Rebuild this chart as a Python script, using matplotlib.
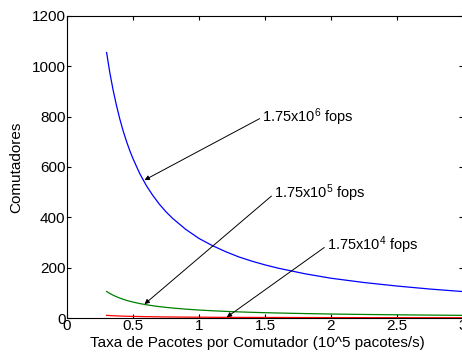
import matplotlib
matplotlib.use('Agg')
import matplotlib.pyplot as plt

# values
rate = [0.3, 0.325, 0.35, 0.375, 0.4, 0.425, 0.45, 0.475, 0.5, 0.55, 0.6, 0.65,
        0.7, 0.75, 0.8, 0.9, 1.0, 1.1, 1.2, 1.3, 1.4, 1.5, 1.6, 1.8, 2.0, 2.25,
        2.5, 2.75, 3.0]
sw_1e6 = [1055, 973, 904, 844, 791, 744, 703, 666, 633, 575, 527, 487,
          452, 422, 396, 352, 316, 288, 264, 243, 226, 211, 198, 176, 158, 141,
          127, 115, 105]
sw_1e5 = [105.5, 97.3, 90.4, 84.4, 79.1, 74.4, 70.3, 66.6, 63.3, 57.5, 52.7, 48.7,
          45.2, 42.2, 39.6, 35.2, 31.6, 28.8, 26.4, 24.3, 22.6, 21.1, 19.8, 17.6,
          15.8, 14.1, 12.7, 11.5, 10.5]
sw_1e4 = [10.5, 9.7, 9.0, 8.4, 7.9, 7.4, 7.0, 6.7, 6.3, 5.8, 5.3, 4.9,
          4.5, 4.2, 4.0, 3.5, 3.2, 2.9, 2.6, 2.4, 2.3, 2.1, 2.0, 1.8,
          1.6, 1.4, 1.3, 1.15, 1.05]

labels = [r'1.75x10$^{6}$ fops', r'1.75x10$^{5}$ fops', r'1.75x10$^{4}$ fops']
arrow_tips = [(0.587, 548), (0.587, 55), (1.21, 3)]
text_pos = [(1.48, 798), (1.57, 494), (1.97, 288)]

plt.rcParams['font.family'] = ['Liberation Sans', 'DejaVu Sans']
plt.rcParams['mathtext.fontset'] = 'custom'
plt.rcParams['mathtext.rm'] = 'Liberation Sans'
plt.rcParams['mathtext.it'] = 'Liberation Sans'
plt.rcParams['mathtext.default'] = 'rm'

fig = plt.figure(figsize=(4.62, 3.52), dpi=100)
ax = fig.add_axes([67 / 462, 34 / 352, 396 / 462, 302 / 352])

ax.plot(rate, sw_1e6, color='#0000ff', lw=0.9)
ax.plot(rate, sw_1e5, color='#008000', lw=0.9)
ax.plot(rate, sw_1e4, color='#ff0000', lw=0.9, clip_on=False)

for lab, tip, pos in zip(labels, arrow_tips, text_pos):
    ax.annotate(lab, xy=tip, xytext=pos, fontsize=10.5, ha='left', va='center',
                arrowprops=dict(arrowstyle='-|>', color='k', lw=0.7,
                                mutation_scale=7, shrinkA=0, shrinkB=0,
                                relpos=(0, 0.5)))

ax.set_xlim(0, 3)
ax.set_ylim(0, 1200)
ax.set_xticks([0, 0.5, 1, 1.5, 2, 2.5, 3])
ax.set_xticklabels(['0', '0.5', '1', '1.5', '2', '2.5', '3'])
ax.set_yticks(range(0, 1201, 200))
ax.tick_params(direction='in', top=True, right=True, labelsize=11, length=3, pad=1)
for s in ax.spines.values():
    s.set_linewidth(0.8)

ax.set_xlabel('Taxa de Pacotes por Comutador (10^5 pacotes/s)', fontsize=11)
ax.xaxis.set_label_coords(0.482, -0.058)
ax.set_ylabel('Comutadores', fontsize=11, labelpad=6)

fig.savefig('out.png', dpi=100)
